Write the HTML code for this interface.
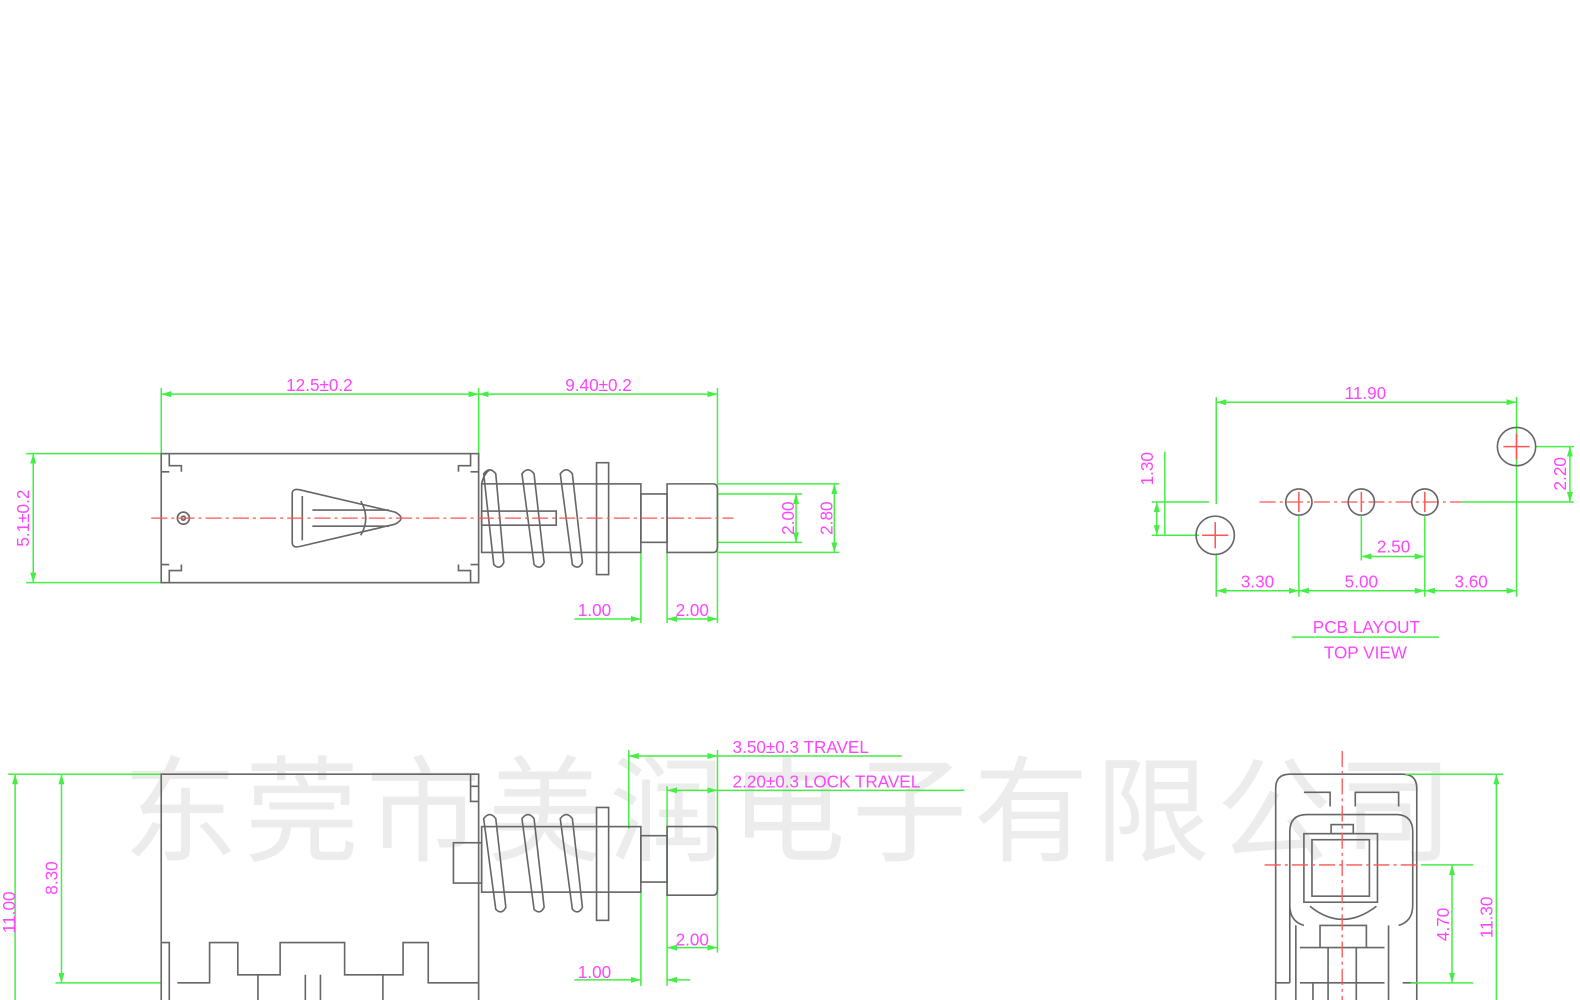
<!DOCTYPE html>
<html><head><meta charset="utf-8"><style>
html,body{margin:0;padding:0;background:#fff;width:1580px;height:1000px;overflow:hidden}
svg{display:block}
.g{stroke:#44ee44;stroke-width:1.5;fill:none}
.k{stroke:#666;stroke-width:1.6;fill:none}
.r{stroke:#ff5555;stroke-width:1.3;fill:none;stroke-dasharray:16 4 3 4}
.rs{stroke:#ff5555;stroke-width:1.5}
text{font-family:"Liberation Sans",sans-serif;fill:#ff44ff;font-size:17px}
.wm{font-family:"Liberation Sans","Noto Sans CJK SC",sans-serif;fill:#ececec;font-size:114px}
</style></head><body>
<svg width="1580" height="1000" viewBox="0 0 1568 992" preserveAspectRatio="none" xmlns="http://www.w3.org/2000/svg">
<defs>
<marker id="a" viewBox="0 0 10 6" refX="10" refY="3" markerWidth="10" markerHeight="6" orient="auto-start-reverse" markerUnits="userSpaceOnUse"><path d="M0,0L10,3L0,6z" fill="#44ee44"/></marker>
</defs>
<text class="wm" x="122" y="845" textLength="1320">东莞市美润电子有限公司</text>

<!-- TOP VIEW -->
<g class="g">
<line x1="160" y1="391" x2="475" y2="391" marker-start="url(#a)" marker-end="url(#a)"/>
<line x1="475" y1="391" x2="712" y2="391" marker-start="url(#a)" marker-end="url(#a)"/>
<line x1="160" y1="385" x2="160" y2="450"/><line x1="475" y1="385" x2="475" y2="462"/><line x1="712" y1="385" x2="712" y2="618"/>
<line x1="33" y1="450" x2="33" y2="578" marker-start="url(#a)" marker-end="url(#a)"/>
<line x1="26" y1="450" x2="160" y2="450"/><line x1="26" y1="578" x2="160" y2="578"/>
<line x1="712" y1="480" x2="833" y2="480"/><line x1="712" y1="548" x2="833" y2="548"/>
<line x1="712" y1="490" x2="796" y2="490"/><line x1="712" y1="538" x2="796" y2="538"/>
<line x1="790" y1="490" x2="790" y2="538" marker-start="url(#a)" marker-end="url(#a)"/>
<line x1="828" y1="480" x2="828" y2="548" marker-start="url(#a)" marker-end="url(#a)"/>
<line x1="636" y1="548" x2="636" y2="618"/><line x1="662" y1="548" x2="662" y2="618"/>
<line x1="570" y1="614" x2="636" y2="614" marker-end="url(#a)"/>
<line x1="662" y1="614" x2="712" y2="614" marker-start="url(#a)" marker-end="url(#a)"/>
</g>
<text x="317" y="388" text-anchor="middle">12.5±0.2</text>
<text x="594" y="388" text-anchor="middle">9.40±0.2</text>
<text transform="translate(29,514) rotate(-90)" text-anchor="middle">5.1±0.2</text>
<text transform="translate(788,514) rotate(-90)" text-anchor="middle">2.00</text>
<text transform="translate(826,514) rotate(-90)" text-anchor="middle">2.80</text>
<text x="590" y="611" text-anchor="middle">1.00</text>
<text x="687" y="611" text-anchor="middle">2.00</text>
<g class="k">
<rect x="160" y="450" width="315" height="128"/>
<path d="M168,450V462H180V468 M160,468H168 M467,450V462H455V468 M475,468H467 M168,578V566H180V560 M160,560H168 M467,578V566H455V560 M475,560H467"/>
<circle cx="182" cy="514" r="6"/><circle cx="182" cy="514" r="2"/>
<path d="M290,490Q290,484 298,486L392,508Q404,514 392,520L298,542Q290,544 290,538Z"/>
<path d="M300,492V536 M310,506H386 M310,522H386 M358,497Q368,514 358,531"/>
<rect x="478" y="480" width="158" height="68"/>
<rect x="478" y="507" width="74" height="14"/>
<rect x="592" y="459" width="12" height="111"/>
<rect x="636" y="490" width="26" height="48"/>
<path d="M662,480H708Q712,480 712,486V542Q712,548 708,548H662Z"/>
<path d="M480,470Q486,462 492,470L500,558Q496,566 490,560Z M486,466Q480,470 478,480"/>
<path d="M518,470Q524,462 530,470L540,558Q536,566 530,560Z"/>
<path d="M556,470Q562,462 568,470L578,558Q574,566 568,560Z"/>
</g>
<line class="r" x1="150" y1="514" x2="728" y2="514"/>

<!-- SIDE VIEW -->
<g class="g">
<line x1="624" y1="750" x2="712" y2="750" marker-start="url(#a)" marker-end="url(#a)"/>
<line x1="712" y1="750" x2="895" y2="750"/>
<line x1="662" y1="784" x2="712" y2="784" marker-start="url(#a)" marker-end="url(#a)"/>
<line x1="712" y1="784" x2="957" y2="784"/>
<line x1="624" y1="744" x2="624" y2="822"/><line x1="712" y1="744" x2="712" y2="945"/>
<line x1="662" y1="780" x2="662" y2="978"/><line x1="636" y1="885" x2="636" y2="978"/>
<line x1="662" y1="940" x2="712" y2="940" marker-start="url(#a)" marker-end="url(#a)"/>
<line x1="570" y1="972" x2="636" y2="972" marker-end="url(#a)"/>
<line x1="662" y1="972" x2="685" y2="972" marker-start="url(#a)"/>
<line x1="8" y1="768" x2="160" y2="768"/>
<line x1="15" y1="768" x2="15" y2="1000" marker-start="url(#a)"/>
<line x1="61" y1="768" x2="61" y2="975" marker-start="url(#a)" marker-end="url(#a)"/>
<line x1="55" y1="975" x2="160" y2="975"/>
</g>
<text x="727" y="747">3.50±0.3  TRAVEL</text>
<text x="727" y="781">2.20±0.3  LOCK  TRAVEL</text>
<text x="687" y="938" text-anchor="middle">2.00</text>
<text x="590" y="970" text-anchor="middle">1.00</text>
<text transform="translate(15,905) rotate(-90)" text-anchor="middle">11.00</text>
<text transform="translate(57,871) rotate(-90)" text-anchor="middle">8.30</text>
<g class="k">
<path d="M160,1000V768H475V1000"/>
<path d="M467,768V780H475 M467,780V795H475"/>
<path d="M160,935H168V1000 M168,935V1000 M176,975H208V935H236V967H256V1000 M256,967H278V935H342V967H380V1000 M380,967H400V935H425V975H475 M303,967V1000 M318,967V1000"/>
<rect x="450" y="836" width="28" height="40"/>
<rect x="478" y="820" width="158" height="65"/>
<rect x="592" y="801" width="12" height="112"/>
<rect x="636" y="829" width="26" height="46"/>
<path d="M662,820H708Q712,820 712,826V882Q712,888 708,888H662Z"/>
<path d="M480,812Q486,804 492,812L502,900Q498,908 492,902Z"/>
<path d="M518,812Q524,804 530,812L540,900Q536,908 530,902Z"/>
<path d="M556,812Q562,804 568,812L578,900Q574,908 568,902Z"/>
</g>

<!-- PCB -->
<g class="g">
<line x1="1207" y1="399" x2="1505" y2="399" marker-start="url(#a)" marker-end="url(#a)"/>
<line x1="1207" y1="394" x2="1207" y2="500"/><line x1="1207" y1="550" x2="1207" y2="592"/>
<line x1="1505" y1="394" x2="1505" y2="592"/>
<line x1="1450" y1="498" x2="1562" y2="498"/>
<line x1="1524" y1="443" x2="1562" y2="443"/>
<line x1="1558" y1="443" x2="1558" y2="498" marker-start="url(#a)" marker-end="url(#a)"/>
<line x1="1143" y1="498" x2="1200" y2="498"/><line x1="1143" y1="531" x2="1190" y2="531"/>
<line x1="1156" y1="448" x2="1156" y2="531"/>
<line x1="1148" y1="498" x2="1148" y2="531" marker-start="url(#a)" marker-end="url(#a)"/>
<line x1="1289" y1="512" x2="1289" y2="592"/><line x1="1414" y1="512" x2="1414" y2="592"/>
<line x1="1351" y1="512" x2="1351" y2="556"/>
<line x1="1351" y1="552" x2="1414" y2="552" marker-start="url(#a)" marker-end="url(#a)"/>
<line x1="1207" y1="586" x2="1289" y2="586" marker-start="url(#a)" marker-end="url(#a)"/>
<line x1="1289" y1="586" x2="1414" y2="586" marker-start="url(#a)" marker-end="url(#a)"/>
<line x1="1414" y1="586" x2="1505" y2="586" marker-start="url(#a)" marker-end="url(#a)"/>
<line x1="1282" y1="632" x2="1428" y2="632"/>
</g>
<line class="r" x1="1250" y1="498" x2="1450" y2="498"/>
<g class="k">
<circle cx="1206" cy="531" r="19"/><circle cx="1505" cy="443" r="19"/>
<circle cx="1289" cy="498" r="13"/><circle cx="1351" cy="498" r="13"/><circle cx="1414" cy="498" r="13"/>
</g>
<g class="rs">
<path d="M1193,531H1219M1206,518V544 M1492,443H1518M1505,430V456 M1289,488V508 M1351,488V508 M1414,488V508"/>
</g>
<text x="1355" y="396" text-anchor="middle">11.90</text>
<text transform="translate(1144,465) rotate(-90)" text-anchor="middle">1.30</text>
<text transform="translate(1554,470) rotate(-90)" text-anchor="middle">2.20</text>
<text x="1383" y="548" text-anchor="middle">2.50</text>
<text x="1248" y="583" text-anchor="middle">3.30</text>
<text x="1351" y="583" text-anchor="middle">5.00</text>
<text x="1460" y="583" text-anchor="middle">3.60</text>
<text x="1356" y="628" text-anchor="middle" font-size="19">PCB  LAYOUT</text>
<text x="1355" y="653" text-anchor="middle" font-size="19">TOP  VIEW</text>

<!-- FRONT VIEW -->
<g class="k">
<path d="M1266,1000V782Q1266,768 1280,768H1392Q1406,768 1406,782V1000"/>
<path d="M1266,975H1280 M1392,975H1406"/>
<path d="M1280,975V825Q1280,808 1297,808H1385Q1402,808 1402,825V898Q1402,914 1388,918 M1280,898Q1280,914 1294,918"/>
<path d="M1294,786H1320V800 M1345,800V786H1388V800"/>
<rect x="1294" y="827" width="73" height="68"/><rect x="1302" y="833" width="57" height="56"/>
<rect x="1321" y="818" width="22" height="9"/>
<path d="M1300,899Q1332,925 1366,899 M1310,918H1356V940H1310Z M1290,940H1374 M1290,975H1374 M1286,918V1000 M1378,918V1000 M1303,975V1000 M1318,940V1000 M1346,940V1000"/>
</g>
<line class="r" x1="1332" y1="745" x2="1332" y2="1000"/>
<line class="r" x1="1255" y1="858" x2="1410" y2="858"/>
<g class="g">
<line x1="1395" y1="768" x2="1492" y2="768"/>
<line x1="1485" y1="768" x2="1485" y2="1000" marker-start="url(#a)"/>
<line x1="1410" y1="858" x2="1462" y2="858"/><line x1="1400" y1="975" x2="1462" y2="975"/>
<line x1="1441" y1="858" x2="1441" y2="975" marker-start="url(#a)" marker-end="url(#a)"/>
</g>
<text transform="translate(1438,917) rotate(-90)" text-anchor="middle">4.70</text>
<text transform="translate(1481,910) rotate(-90)" text-anchor="middle">11.30</text>
</svg>
</body></html>
